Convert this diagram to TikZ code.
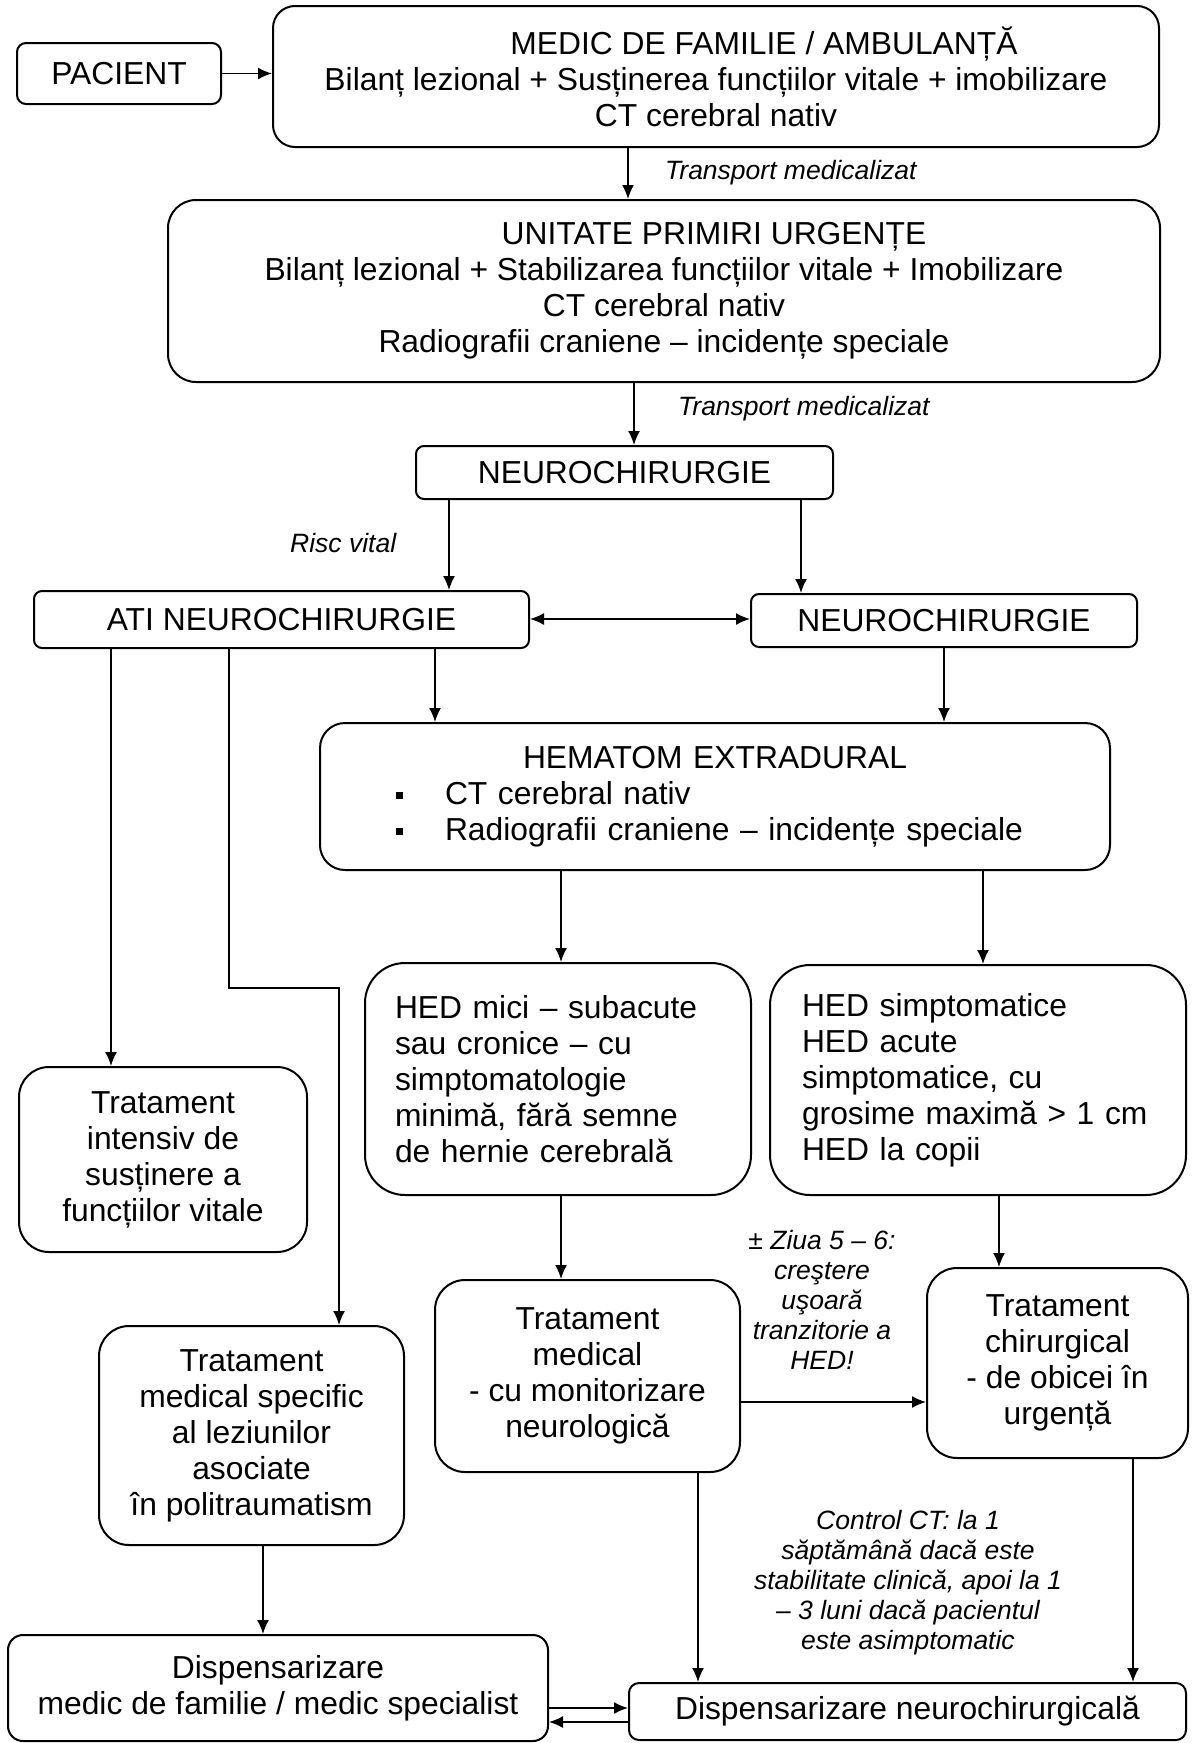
\documentclass[tikz,border=0pt]{standalone}
\usepackage{fontspec}
\setmainfont{Liberation Sans}
\usetikzlibrary{arrows.meta}
\newcommand\mainsize{\fontsize{31.8pt}{36pt}\selectfont}
\newcommand\lblsize{\fontsize{26.5pt}{30pt}\selectfont}
\begin{document}
\begin{tikzpicture}[x=1pt,y=-1pt,
  box/.style={draw, line width=2pt, rounded corners=#1, inner sep=0pt, align=center, font=\mainsize},
  box/.default=10pt,
  arr/.style={-{Latex[length=14pt,width=12pt]}, line width=1.6pt},
  twoway/.style={{Latex[length=14pt,width=12pt]}-{Latex[length=14pt,width=12pt]}, line width=1.6pt},
  lbl/.style={font=\lblsize\itshape, align=center, inner sep=0pt}]
\useasboundingbox[fill=white] (0,0) rectangle (1196,1743);

% ---- boxes ----
\node[box=9pt, minimum width=204pt, minimum height=61pt] (pacient) at (119,73.5) {PACIENT};
\node[box=22pt, minimum width=886pt, minimum height=141pt] (medic) at (716,76.5)
  {\hspace*{96pt}MEDIC DE FAMILIE / AMBULANȚĂ\\Bilanț lezional + Susținerea funcțiilor vitale + imobilizare\\CT cerebral nativ};
\node[box=28pt, minimum width=992pt, minimum height=182pt] (upu) at (664,291)
  {\hspace*{100pt}UNITATE PRIMIRI URGENȚE\\Bilanț lezional + Stabilizarea funcțiilor vitale + Imobilizare\\CT cerebral nativ\\Radiografii craniene – incidențe speciale};
\node[box=8pt, minimum width=417pt, minimum height=53pt] (neuro1) at (624.5,472.5) {NEUROCHIRURGIE};
\node[box=8pt, minimum width=495pt, minimum height=57pt] (ati) at (281.5,619.5) {ATI NEUROCHIRURGIE};
\node[box=8pt, minimum width=386pt, minimum height=53pt] (neuro2) at (944,620.5) {NEUROCHIRURGIE};
\node[box=25pt, minimum width=790pt, minimum height=147pt, align=left, text width=638pt] (hem) at (715,796.5)
  {\makebox[638pt][c]{HEMATOM EXTRADURAL}\\
   \makebox[49pt][l]{\raisebox{5pt}{\rule{7pt}{7pt}}}CT cerebral nativ\\
   \makebox[49pt][l]{\raisebox{5pt}{\rule{7pt}{7pt}}}Radiografii craniene – incidențe speciale};
\node[box=40pt, minimum width=386pt, minimum height=232pt, align=left, text width=326pt] (hedmici) at (558,1079)
  {HED mici – subacute\\sau cronice – cu\\simptomatologie\\minimă, fără semne\\de hernie cerebrală};
\node[box=40pt, minimum width=416pt, minimum height=230pt, align=left, text width=352pt] (hedsimpt) at (978,1080)
  {HED simptomatice\\HED acute\\simptomatice, cu\\grosime maximă > 1 cm\\HED la copii};
\node[box=30pt, minimum width=288pt, minimum height=185pt] (tratint) at (163,1159.5)
  {Tratament\\intensiv de\\susținere a\\funcțiilor vitale};
\node[box=30pt, minimum width=305pt, minimum height=192pt] (tratmed) at (587.5,1376)
  {Tratament\\medical\\- cu monitorizare\\neurologică};
\node[box=30pt, minimum width=261pt, minimum height=190pt] (tratchir) at (1057.5,1363)
  {Tratament\\chirurgical\\- de obicei în\\urgență};
\node[box=30pt, minimum width=305pt, minimum height=219pt] (tratspec) at (251.5,1435.5)
  {Tratament\\medical specific\\al leziunilor\\asociate\\în politraumatism};
\node[box=15pt, minimum width=540pt, minimum height=106pt] (dispmed) at (278,1688)
  {Dispensarizare\\medic de familie / medic specialist};
\node[box=10pt, minimum width=557pt, minimum height=57pt] (dispneuro) at (907.5,1711.5)
  {Dispensarizare neurochirurgicală};

% ---- labels ----
\node[lbl, anchor=west] (tr1) at (665,173) {Transport medicalizat};
\node[lbl, anchor=west] (tr2) at (678,409) {Transport medicalizat};
\node[lbl, anchor=west] (risc) at (290,543) {Risc vital};
\node[lbl] (ziua) at (822,1300) {± Ziua 5 – 6:\\creştere\\uşoară\\tranzitorie a\\HED!};
\node[lbl] (ctrl) at (908,1583) {Control CT: la 1\\săptămână dacă este\\stabilitate clinică, apoi la 1\\– 3 luni dacă pacientul\\este asimptomatic};

% ---- connectors ----
\draw[arr] (pacient.east) -- (pacient.east -| medic.west);
\draw[arr] ([xshift=-88pt]medic.south) coordinate (c1) -- (c1 |- upu.north);
\draw[arr] ([xshift=-30pt]upu.south) coordinate (c2) -- (c2 |- neuro1.north);
\draw[arr] ([xshift=-175.5pt]neuro1.south) coordinate (c3) -- (c3 |- ati.north);
\draw[arr] ([xshift=176.5pt]neuro1.south) coordinate (c4) -- (c4 |- neuro2.north);
\draw[twoway] ([yshift=0.5pt]ati.east) -- ([yshift=0.5pt]ati.east -| neuro2.west);
\draw[arr] ([xshift=153.5pt]ati.south) coordinate (c5) -- (c5 |- hem.north);
\draw[arr] (neuro2.south) -- (neuro2.south |- hem.north);
\draw[arr] ([xshift=-170.5pt]ati.south) coordinate (c6) -- (c6 |- tratint.north);
\draw[arr] ([xshift=-52.5pt]ati.south) -- ++(0,339) -| ([xshift=87.5pt]tratspec.north);
\draw[arr] ([xshift=-154pt]hem.south) coordinate (c7) -- (c7 |- hedmici.north);
\draw[arr] ([xshift=268pt]hem.south) coordinate (c8) -- (c8 |- hedsimpt.north);
\draw[arr] ([xshift=3pt]hedmici.south) coordinate (c9) -- (c9 |- tratmed.north);
\draw[arr] ([xshift=21pt]hedsimpt.south) coordinate (c10) -- (c10 |- tratchir.north);
\draw[arr] ([yshift=-26pt]tratmed.east) coordinate (c11) -- (c11 -| tratchir.west);
\draw[arr] ([xshift=11.5pt]tratspec.south) coordinate (c12) -- (c12 |- dispmed.north);
\draw[arr] ([xshift=110.5pt]tratmed.south) coordinate (c13) -- (c13 |- dispneuro.north);
\draw[arr] ([xshift=75.5pt]tratchir.south) coordinate (c14) -- (c14 |- dispneuro.north);
\draw[arr] ([yshift=-20pt]dispmed.east) coordinate (c15) -- (c15 -| dispneuro.west);
\draw[arr] ([yshift=-34pt]dispmed.east -| dispneuro.west) -- ([yshift=-34pt]dispmed.east);
\end{tikzpicture}
\end{document}
